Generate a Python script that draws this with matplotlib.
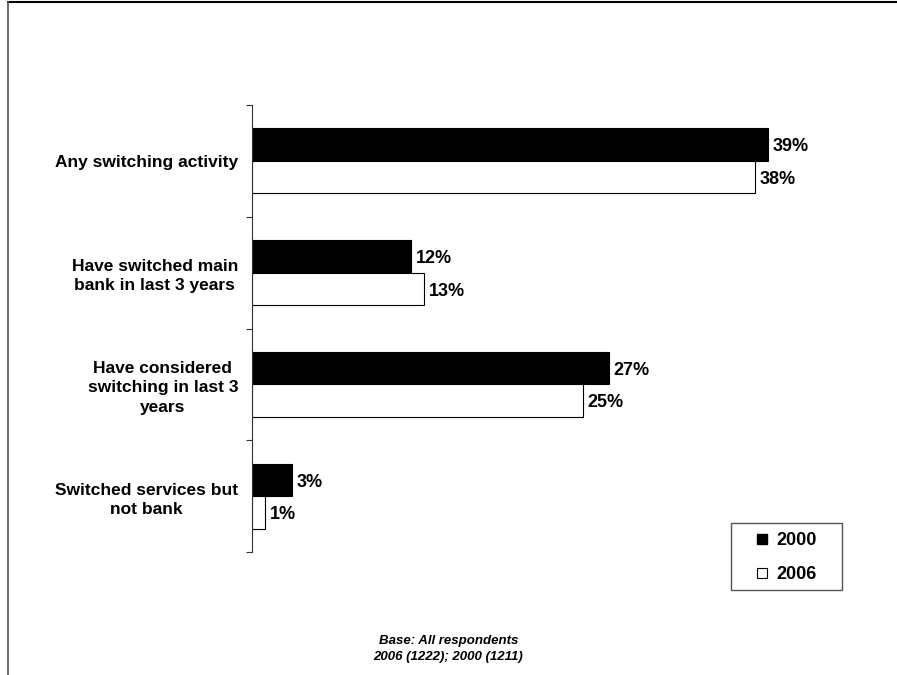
import matplotlib.pyplot as plt
from matplotlib.lines import Line2D
from matplotlib.patches import Rectangle

plt.rcParams["font.family"] = ["Liberation Sans", "DejaVu Sans"]

categories = [
    "Any switching activity",
    "Have switched main\nbank in last 3 years",
    "Have considered\nswitching in last 3\nyears",
    "Switched services but\nnot bank",
]
series_labels = ["2000", "2006"]
values_2000 = [39, 12, 27, 3]
values_2006 = [38, 13, 25, 1]
footnote = "Base: All respondents\n2006 (1222); 2000 (1211)"

BAR_H = 0.29
W, H = 897, 675

fig = plt.figure(figsize=(W / 100, H / 100), dpi=100)
ax = fig.add_axes([252 / W, 1 - 552 / H, 635 / W, 447 / H])

pos = list(range(len(categories)))
ax.barh([p - BAR_H / 2 for p in pos], values_2000, height=BAR_H,
        color="black", edgecolor="black", linewidth=0.8)
ax.barh([p + BAR_H / 2 for p in pos], values_2006, height=BAR_H,
        color="white", edgecolor="black", linewidth=0.8)

# value labels sit a touch below each bar's centre line
for p, v in zip(pos, values_2000):
    ax.text(v + 0.35, p - BAR_H / 2 + 0.02, f"{v}%", va="center", ha="left",
            fontsize=13, fontweight="bold")
for p, v in zip(pos, values_2006):
    ax.text(v + 0.35, p + BAR_H / 2 + 0.02, f"{v}%", va="center", ha="left",
            fontsize=13, fontweight="bold")

ax.set_xlim(0, 48)
ax.set_ylim(len(categories) - 0.5, -0.5)
ax.set_xticks([])

# tick marks sit on category boundaries, labels at the category centres
ax.set_yticks([p - 0.5 for p in pos] + [len(categories) - 0.5])
ax.set_yticklabels([])
ax.tick_params(axis="y", which="major", direction="out", length=4,
               width=0.8, color="#333333")
ax.set_yticks(pos, minor=True)
ax.set_yticklabels(categories, minor=True, fontsize=12.5, fontweight="bold",
                   multialignment="center", linespacing=1.35)
ax.tick_params(axis="y", which="minor", length=0, pad=10)

for side in ("top", "right", "bottom"):
    ax.spines[side].set_visible(False)
ax.spines["left"].set_linewidth(0.8)
ax.spines["left"].set_color("#333333")

# legend box drawn separately so its size can be set directly
box_l, box_r, box_t, box_b = 731, 842, 523, 590
fig.add_artist(Rectangle((box_l / W, 1 - box_b / H), (box_r - box_l) / W,
                         (box_b - box_t) / H, transform=fig.transFigure,
                         facecolor="white", edgecolor="#555555", linewidth=1.0))
handles = [
    Line2D([], [], marker="s", linestyle="", markersize=7.5,
           markerfacecolor="black", markeredgecolor="black", label=series_labels[0]),
    Line2D([], [], marker="s", linestyle="", markersize=7.5,
           markerfacecolor="white", markeredgecolor="black", markeredgewidth=0.8,
           label=series_labels[1]),
]
fig.legend(handles=handles, loc="center",
           bbox_to_anchor=((box_l + box_r) / 2 / W - 2 / W,
                           1 - (box_t + box_b + 2) / 2 / H),
           frameon=False, prop={"weight": "bold", "size": 13},
           handlelength=1.0, handletextpad=0.3, labelspacing=0.95,
           borderpad=0, borderaxespad=0)

fig.text(0.5, 1 - 649 / H, footnote, ha="center", va="center",
         fontsize=9.5, fontweight="bold", fontstyle="italic", linespacing=1.35)

# page frame: top and left edges
fig.add_artist(Line2D([8 / W, 1], [1 - 2 / H, 1 - 2 / H],
                      transform=fig.transFigure, color="black", linewidth=1.5))
fig.add_artist(Line2D([8 / W, 8 / W], [0, 1 - 2 / H],
                      transform=fig.transFigure, color="#555555", linewidth=1.2))

fig.savefig("out.png", dpi=100)
